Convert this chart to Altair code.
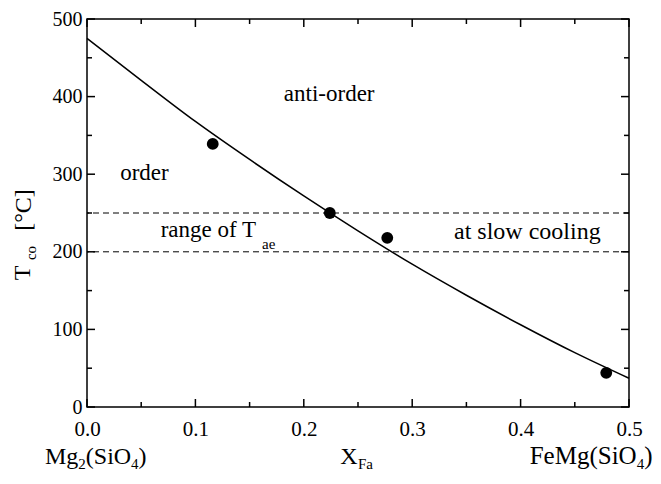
import altair as alt
import pandas as pd

# ---- data ----
curve_x = [0.0, 0.05, 0.1, 0.15, 0.2, 0.25, 0.3, 0.35, 0.4, 0.45, 0.5]
curve_t = [475, 421, 368, 319, 272, 227, 184, 144, 106, 70, 37]
points_x = [0.116, 0.224, 0.277, 0.479]
points_t = [339, 250, 218, 44]
tae_bounds = [200, 250]
x_major = [0.0, 0.1, 0.2, 0.3, 0.4, 0.5]
x_minor = [0.05, 0.15, 0.25, 0.35, 0.45]
y_major = [0, 100, 200, 300, 400, 500]
y_minor = [50, 150, 250, 350, 450]

W, H = 542, 388
FONT = "'Liberation Serif', 'Times New Roman', serif"

xs = alt.Scale(domain=[0, 0.5], nice=False, zero=False)
ys = alt.Scale(domain=[0, 500], nice=False)
xaxis = alt.Axis(values=x_major, format=".1f", ticks=False, tickSize=0, domain=False,
                 grid=False, labelFont=FONT, labelFontSize=21, labelColor="black",
                 labelPadding=11, title=None, labelFlush=False)
yaxis = alt.Axis(values=y_major, format="d", ticks=False, tickSize=0, domain=False,
                 grid=False, labelFont=FONT, labelFontSize=20, labelColor="black",
                 labelPadding=5, title=None, labelFlush=False)


def X(field=None, datum=None):
    if datum is not None:
        return alt.X(datum=datum, type="quantitative", scale=xs, axis=xaxis)
    return alt.X(field, type="quantitative", scale=xs, axis=xaxis)


def Y(field=None, datum=None):
    if datum is not None:
        return alt.Y(datum=datum, type="quantitative", scale=ys, axis=yaxis)
    return alt.Y(field, type="quantitative", scale=ys, axis=yaxis)


curve = alt.Chart(pd.DataFrame({"x": curve_x, "t": curve_t})).mark_line(
    color="black", strokeWidth=1.5, interpolate="monotone"
).encode(x=X("x"), y=Y("t"))

points = alt.Chart(pd.DataFrame({"x": points_x, "t": points_t})).mark_circle(
    size=140, color="black", opacity=1
).encode(x=X("x"), y=Y("t"))

dashed = alt.Chart(pd.DataFrame({"t": tae_bounds})).mark_rule(
    color="black", strokeWidth=1, strokeDash=[6, 4]
).encode(y=Y("t"))


def tick_rules(vals, side, length):
    df = pd.DataFrame({"v": vals})
    m = alt.Chart(df).mark_rule(color="black", strokeWidth=1.5)
    if side == "bottom":
        return m.encode(x=X("v"), y=alt.value(H), y2=alt.value(H - length))
    if side == "top":
        return m.encode(x=X("v"), y=alt.value(0), y2=alt.value(length))
    if side == "left":
        return m.encode(y=Y("v"), x=alt.value(0), x2=alt.value(length))
    return m.encode(y=Y("v"), x=alt.value(W), x2=alt.value(W - length))


ticks = []
for side in ["bottom", "top"]:
    ticks.append(tick_rules(x_major, side, 8))
    ticks.append(tick_rules(x_minor, side, 5))
for side in ["left", "right"]:
    ticks.append(tick_rules(y_major, side, 8))
    ticks.append(tick_rules(y_minor, side, 5))


def txt(s, x, y, size, align="left", baseline="middle", angle=0, px=False):
    m = alt.Chart(pd.DataFrame({"s": [s]})).mark_text(
        font=FONT, fontSize=size, align=align, baseline=baseline, angle=angle, color="black"
    )
    if px:
        return m.encode(text="s:N", x=alt.value(x), y=alt.value(y))
    return m.encode(text="s:N", x=X(datum=x), y=Y(datum=y))


BL = 445   # baseline of the bottom formula labels (px, relative to plot top)
SB = BL + 5
labels = [
    txt("anti-order", 0.2234, 403, 23, align="center"),
    txt("order", 0.053, 301, 23, align="center"),
    txt("range of T", 0.068, 228, 23),
    txt("ae", 0.1615, 210, 15),
    txt("at slow cooling", 0.3386, 226, 24),
    # y axis title (rotated)
    txt("T", -64, 254, 24, align="center", angle=270, px=True),
    txt("co", -56, 234, 15, align="center", angle=270, px=True),
    txt("[°C]", -63, 191, 24, align="center", angle=270, px=True),
    # bottom labels
    txt("Mg", -42, BL, 24, baseline="alphabetic", px=True),
    txt("2", -8.7, SB, 15, baseline="alphabetic", px=True),
    txt("(SiO", -1.2, BL, 24, baseline="alphabetic", px=True),
    txt("4", 44.1, SB, 15, baseline="alphabetic", px=True),
    txt(")", 51.6, BL, 24, baseline="alphabetic", px=True),
    txt("X", 253.3, BL, 24, baseline="alphabetic", px=True),
    txt("Fa", 271, SB, 15, baseline="alphabetic", px=True),
    txt("FeMg(SiO", 442.7, BL, 25, baseline="alphabetic", px=True),
    txt("4", 549.7, SB, 15, baseline="alphabetic", px=True),
    txt(")", 557.2, BL, 25, baseline="alphabetic", px=True),
]

chart = alt.layer(dashed, curve, points, *ticks, *labels).properties(
    width=W, height=H,
    autosize=alt.AutoSizeParams(type="none"),
    padding={"left": 79, "top": 11, "right": 24, "bottom": 68},
).configure_view(stroke="black", strokeWidth=1.5)

chart.save("out.html", embed_options={"renderer": "svg", "actions": False})
